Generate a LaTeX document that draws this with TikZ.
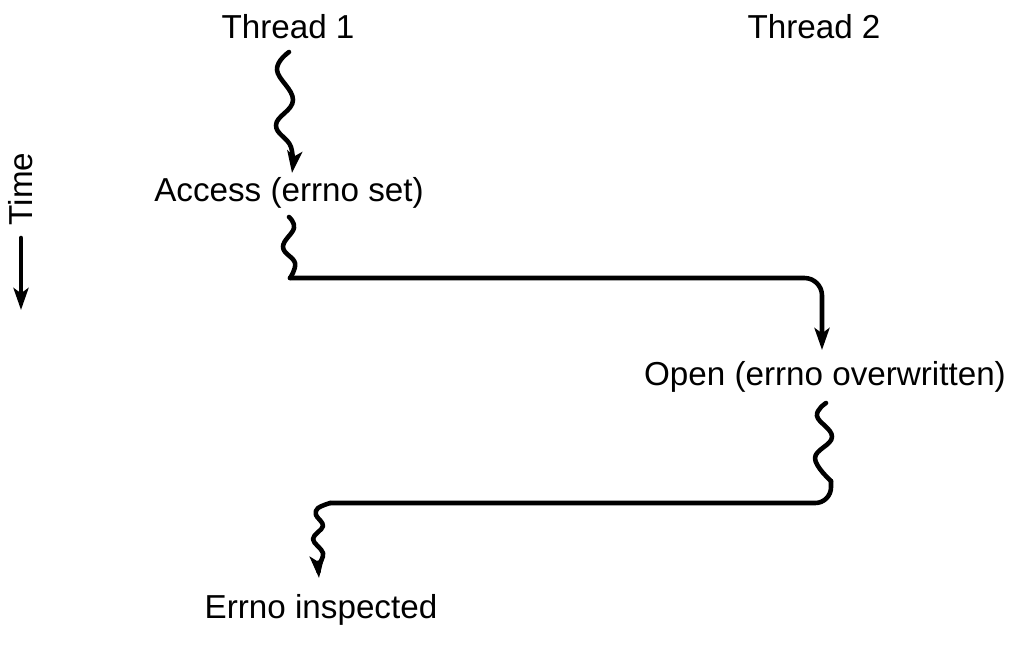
\documentclass[tikz,border=0pt]{standalone}
\usepackage{fontspec}
\setmainfont{Liberation Sans}
\usetikzlibrary{arrows.meta}
\begin{document}
\begin{tikzpicture}[x=0.02cm,y=-0.02cm,
  lbl/.style={font=\fontsize{18.9}{22}\selectfont, inner sep=0pt},
  flow/.style={line width=2.6pt, line cap=round, line join=round},
  tip/.style={-{Stealth[length=12.5pt,width=8.5pt,inset=3pt]}}]
\useasboundingbox (0,0) rectangle (1013,654);
% labels
\node[lbl] (t1) at (288,27) {Thread 1};
\node[lbl] (t2) at (814,27) {Thread 2};
\node[lbl] (acc) at (289,193) {Access (errno set)};
\node[lbl] (open) at (825,377) {Open (errno overwritten)};
\node[lbl] (err) at (321,610) {Errno inspected};
\node[lbl, rotate=90] (time) at (21,189) {Time};
% time arrow
\coordinate (ta) at (21,238);
\coordinate (tb) at (21,310);
\draw[flow,tip] (ta) -- (tb);
% thread 1 to access
\coordinate (w1s) at (289,52);
\coordinate (w1e) at (292,173);
\draw[flow,tip] plot[smooth,tension=0.7] coordinates {(w1s) (277,70) (293,100) (276,125) (291,147) (w1e)};
% access to open
\coordinate (w2s) at (289,217);
\coordinate (c2) at (290,278);
\coordinate (c3) at (822,278);
\coordinate (w2e) at (822,350);
\draw[flow] plot[smooth,tension=0.7] coordinates {(w2s) (294,228) (283,247) (295,263) (c2)};
\draw[flow,tip,rounded corners=10] (c2) -- (c3) -- (w2e);
% open to errno inspected
\coordinate (w3s) at (826,403);
\coordinate (c4) at (831,481);
\coordinate (c5) at (831,503);
\coordinate (c6) at (330,503);
\coordinate (w3e) at (319,578);
\draw[flow] plot[smooth,tension=0.7] coordinates {(w3s) (817,416) (832,437) (815,458) (c4)};
\draw[flow,rounded corners=9] (c4) -- (c5) -- (c6);
\draw[flow,tip] plot[smooth,tension=0.6] coordinates {(c6) (318,508) (316,515) (323,526) (313,539) (323,553) (319,566) (w3e)};
\end{tikzpicture}
\end{document}
